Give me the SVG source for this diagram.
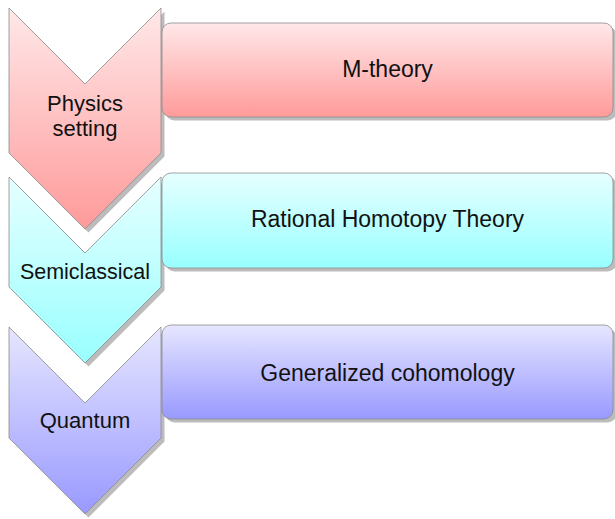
<svg xmlns="http://www.w3.org/2000/svg" width="615" height="519" viewBox="0 0 615 519">
<defs>
<linearGradient id="gRed" x1="0" y1="0" x2="0" y2="1"><stop offset="0" stop-color="#ffe8e9"/><stop offset="1" stop-color="#ff9a9a"/></linearGradient>
<linearGradient id="gCyan" x1="0" y1="0" x2="0" y2="1"><stop offset="0" stop-color="#e6ffff"/><stop offset="1" stop-color="#99ffff"/></linearGradient>
<linearGradient id="gBlue" x1="0" y1="0" x2="0" y2="1"><stop offset="0" stop-color="#e6e6ff"/><stop offset="1" stop-color="#9999ff"/></linearGradient>
</defs>
<style>
.shadow{fill:#bcbcbc}
.shape{stroke:#8a8a8a;stroke-width:0.8}
text{font-family:"Liberation Sans",Arial,sans-serif;font-size:22px;fill:#111;text-anchor:middle}
text.box{font-size:23px}
</style>
<g id="chevron-physics">
<polygon class="shadow" points="12.5,11.5 88.5,87.5 164.5,11.5 164.5,156.5 88.5,232.5 12.5,156.5"/>
<polygon class="shape" fill="url(#gRed)" points="9,8 85,84 161,8 161,153 85,229 9,153"/>
<text x="85" y="111">Physics</text>
<text x="85" y="136">setting</text>
</g>
<g id="chevron-semiclassical">
<polygon class="shadow" points="12.5,180.5 88.5,256.5 164.5,180.5 164.5,290.5 88.5,366.5 12.5,290.5"/>
<polygon class="shape" fill="url(#gCyan)" points="9,177 85,253 161,177 161,287 85,363 9,287"/>
<text x="85" y="279" style="font-size:21.5px">Semiclassical</text>
</g>
<g id="chevron-quantum">
<polygon class="shadow" points="12.5,330.5 88.5,406.5 164.5,330.5 164.5,441.5 88.5,517.5 12.5,441.5"/>
<polygon class="shape" fill="url(#gBlue)" points="9,327 85,403 161,327 161,438 85,514 9,438"/>
<text x="85" y="428">Quantum</text>
</g>
<g id="box-mtheory">
<rect class="shadow" x="165.5" y="26.5" width="451" height="94" rx="9"/>
<rect class="shape" fill="url(#gRed)" x="162" y="23" width="451" height="94" rx="9"/>
<text class="box" x="387.5" y="77">M-theory</text>
</g>
<g id="box-rational">
<rect class="shadow" x="165.5" y="176.5" width="451" height="95" rx="9"/>
<rect class="shape" fill="url(#gCyan)" x="162" y="173" width="451" height="95" rx="9"/>
<text class="box" x="387.5" y="227">Rational Homotopy Theory</text>
</g>
<g id="box-generalized">
<rect class="shadow" x="165.5" y="328.5" width="451" height="94" rx="9"/>
<rect class="shape" fill="url(#gBlue)" x="162" y="325" width="451" height="94" rx="9"/>
<text class="box" x="387.5" y="381">Generalized cohomology</text>
</g>
</svg>
